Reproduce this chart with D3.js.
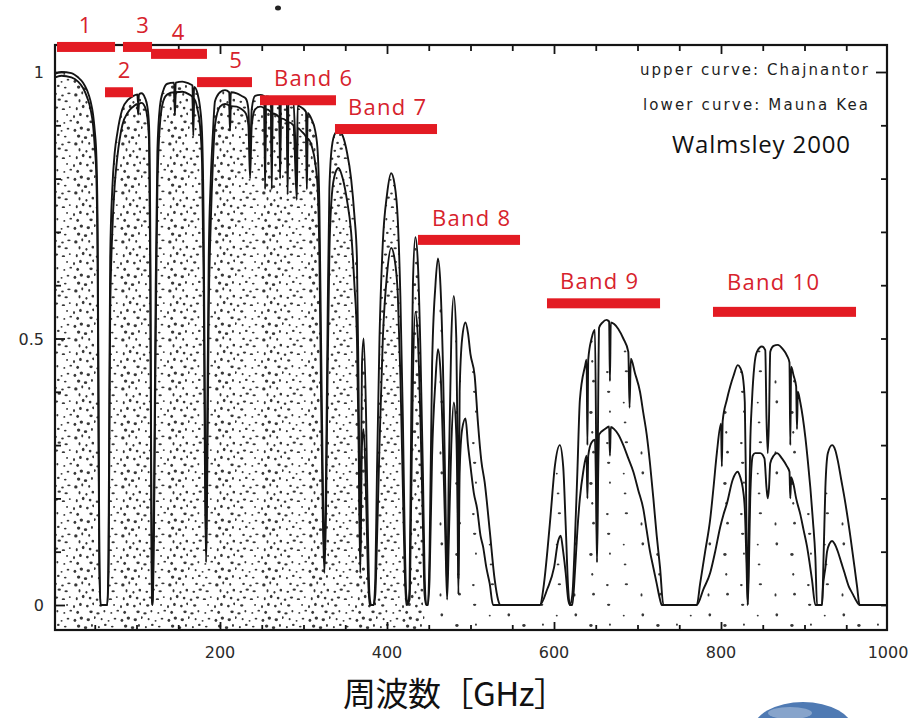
<!DOCTYPE html>
<html>
<head>
<meta charset="utf-8">
<script src="https://cdn.jsdelivr.net/npm/d3@7"></script>
<style>
  html, body { margin: 0; padding: 0; background: #fff; }
  svg { display: block; }
</style>
</head>
<body>
<div id="chart"></div>
<script>
// Atmospheric transmission, [frequency GHz, transmission]
const upperCurve = [ // Chajnantor
  [0,0.995],[10,1.0],[22,0.998],[30,0.99],[36,0.98],[41,0.965],[45,0.945],[48,0.92],[50,0.89],[52,0.84],
  [53.5,0.7],[54.5,0.4],[55.5,0.1],[57,0],[65,0],[66.5,0.1],[67.5,0.4],[68.5,0.65],[71,0.78],[74,0.85],
  [77,0.885],[83,0.93],[90,0.948],[96,0.955],[101,0.958],[102,0.94],[103,0.958],[106,0.96],[110,0.952],
  [113,0.935],[115,0.9],[116.5,0.7],[117.5,0.3],[118.5,0.02],[119,0],[119.5,0.02],[121,0.2],[123,0.6],
  [125,0.85],[128,0.935],[132,0.965],[137,0.978],[145,0.98],[146,0.94],[147,0.98],[155,0.982],[163,0.978],
  [167,0.975],[168,0.91],[169,0.972],[173,0.96],[176,0.935],[178.5,0.885],[180.5,0.7],[182,0.35],[183.3,0.1],
  [184.5,0.3],[186.5,0.65],[189,0.8],[191.5,0.885],[194,0.945],[200,0.962],[206,0.966],[211,0.962],[212,0.92],
  [213,0.962],[220,0.96],[226,0.955],[231,0.95],[234,0.93],[236,0.85],[238,0.93],[242,0.955],[248,0.957],
  [253,0.955],[254,0.83],[255,0.954],[261,0.952],[262,0.83],[263,0.95],[271,0.948],[272,0.85],[273,0.947],
  [280,0.945],[281,0.82],[282,0.944],[288,0.94],[292,0.81],[293,0.937],[298,0.933],[303,0.925],[304,0.83],
  [305,0.923],[310,0.91],[314,0.89],[317,0.85],[319,0.75],[321,0.5],[323,0.25],[325,0.08],[327,0.25],
  [329,0.55],[331,0.78],[334,0.86],[338,0.885],[342,0.89],[347,0.88],[352,0.85],[357,0.8],[361,0.73],
  [364,0.65],[366,0.4],[368,0.1],[370,0.45],[372,0.5],[375,0.35],[377,0.15],[379,0.02],[381,0],[384,0],
  [386,0.05],[388,0.25],[391,0.5],[395,0.68],[400,0.77],[405,0.81],[409,0.79],[413,0.72],[416,0.58],
  [419,0.35],[421,0.15],[423,0.02],[425,0],[427,0.03],[429,0.35],[431,0.6],[434,0.69],[437,0.64],[440,0.48],
  [443,0.25],[445,0.06],[447,0],[449,0],[451,0.1],[454,0.45],[458,0.6],[461,0.65],[464,0.6],[467,0.45],
  [470,0.2],[472,0.03],[474,0.25],[477,0.5],[480,0.58],[483,0.5],[484.5,0.3],[485.5,0.05],[487,0.4],
  [490,0.5],[494,0.53],[497,0.51],[500,0.47],[505,0.43],[509,0.34],[513,0.27],[517,0.23],[523,0.14],
  [529,0.047],[533,0.01],[536,0],[583,0],[588,0.04],[592,0.1],[596,0.17],[601,0.26],[607,0.3],[611,0.26],
  [614,0.15],[617,0.03],[619,0],[622,0.02],[625,0.12],[628,0.25],[631,0.385],[637,0.447],[639,0.46],
  [640,0.3],[641,0.46],[645,0.5],[649,0.516],[650.5,0.3],[651.5,0.1],[652.5,0.3],[654,0.52],[658,0.53],
  [663,0.535],[666,0.532],[667,0.42],[668,0.53],[672,0.527],[677,0.518],[683,0.5],[689,0.475],[690.5,0.37],
  [692,0.462],[697,0.435],[703,0.4],[707,0.36],[711,0.32],[715,0.265],[719,0.2],[723,0.13],[727,0.07],
  [731,0],[771,0],[775,0.04],[781,0.1],[787,0.16],[791,0.22],[795,0.285],[800,0.34],[801,0.26],[802,0.345],
  [807,0.385],[811,0.41],[815,0.43],[820,0.45],[823,0.445],[826,0.43],[828.5,0.38],[830.5,0.15],[832,0],
  [833.5,0.15],[835,0.3],[837,0.38],[840,0.45],[843,0.475],[849,0.485],[853,0.478],[854.5,0.35],[856,0.285],
  [857.5,0.35],[859,0.475],[863,0.486],[868,0.488],[874,0.48],[879,0.468],[882,0.455],[883,0.3],[884,0.447],
  [887,0.43],[890,0.41],[891,0.33],[892,0.4],[895,0.38],[901,0.315],[904,0.27],[907,0.22],[910,0.16],
  [913,0.09],[915,0],[921,0],[923,0.1],[925,0.22],[928,0.285],[933,0.3],[937,0.29],[940,0.27],[944,0.235],
  [948,0.2],[955,0.128],[960,0.07],[963,0.034],[966,0],[1000,0]
];

const lowerCurve = [ // Mauna Kea
  [0,0.988],[10,0.993],[22,0.99],[30,0.982],[36,0.97],[41,0.952],[45,0.93],[48,0.9],[50,0.86],[52,0.8],
  [53.5,0.62],[54.5,0.32],[55.5,0.07],[57,0],[65,0],[66.5,0.06],[67.5,0.3],[68.5,0.55],[71,0.7],[74,0.79],
  [77,0.84],[83,0.9],[90,0.925],[96,0.935],[101,0.94],[102,0.92],[103,0.94],[106,0.942],[110,0.935],
  [113,0.915],[115,0.87],[116.5,0.62],[117.5,0.25],[118.5,0.01],[119,0],[119.5,0.01],[121,0.15],[123,0.5],
  [125,0.78],[128,0.9],[132,0.945],[137,0.958],[145,0.962],[146,0.92],[147,0.962],[155,0.963],[163,0.958],
  [167,0.953],[168,0.88],[169,0.95],[173,0.93],[176,0.9],[178.5,0.83],[180.5,0.6],[182,0.25],[183.3,0.08],
  [184.5,0.2],[186.5,0.55],[189,0.72],[191.5,0.83],[194,0.9],[200,0.935],[206,0.94],[211,0.937],[212,0.89],
  [213,0.936],[220,0.935],[226,0.93],[231,0.922],[234,0.9],[236,0.8],[238,0.9],[242,0.93],[248,0.935],
  [253,0.932],[254,0.78],[255,0.93],[261,0.925],[262,0.78],[263,0.922],[271,0.915],[272,0.8],[273,0.913],
  [280,0.908],[281,0.77],[282,0.906],[288,0.9],[292,0.76],[293,0.895],[298,0.888],[303,0.878],[304,0.78],
  [305,0.875],[310,0.86],[314,0.83],[317,0.78],[319,0.66],[321,0.4],[323,0.18],[325,0.06],[327,0.18],
  [329,0.45],[331,0.66],[334,0.77],[338,0.81],[342,0.82],[347,0.8],[352,0.76],[357,0.7],[361,0.6],
  [364,0.5],[366,0.3],[368,0.06],[370,0.3],[372,0.33],[375,0.2],[377,0.07],[379,0],[384,0],[386,0.02],
  [388,0.12],[391,0.3],[395,0.5],[400,0.62],[405,0.67],[409,0.65],[413,0.58],[416,0.43],[419,0.22],
  [421,0.08],[423,0],[427,0.01],[429,0.2],[431,0.42],[434,0.55],[437,0.5],[440,0.35],[443,0.15],[445,0.02],
  [447,0],[449,0],[451,0.05],[454,0.28],[458,0.42],[461,0.48],[464,0.44],[467,0.3],[470,0.12],[472,0.01],
  [474,0.12],[477,0.3],[480,0.38],[483,0.32],[484.5,0.18],[485.5,0.02],[487,0.25],[490,0.33],[494,0.35],
  [497,0.3],[500,0.26],[504,0.21],[508,0.18],[512,0.13],[515,0.11],[519,0.07],[523,0.04],[527,0],[583,0],
  [592,0.03],[600,0.07],[605,0.12],[608,0.13],[611,0.1],[614,0.06],[617,0.01],[619,0],[622,0],[625,0.06],
  [628,0.14],[631,0.2],[635,0.25],[639,0.28],[640,0.2],[641,0.28],[645,0.305],[649,0.31],[650.5,0.2],
  [651.5,0.08],[652.5,0.2],[654,0.32],[661,0.33],[666,0.335],[667,0.28],[668,0.334],[672,0.33],[677,0.32],
  [683,0.3],[689,0.275],[695,0.25],[701,0.215],[707,0.18],[711,0.14],[715,0.1],[719,0.07],[723,0.04],
  [727,0.01],[729,0],[771,0],[779,0.03],[787,0.06],[793,0.1],[799,0.146],[803,0.17],[807,0.19],[814,0.235],
  [820,0.25],[823,0.24],[826,0.22],[828.5,0.18],[830.5,0.08],[832,0],[833.5,0.08],[835,0.2],[838,0.28],
  [841,0.285],[847,0.285],[852,0.275],[854.5,0.22],[856,0.2],[857.5,0.22],[859,0.266],[863,0.28],[867,0.285],
  [873,0.275],[879,0.26],[882,0.25],[883,0.2],[884,0.24],[887,0.225],[890,0.2],[895,0.17],[899,0.14],
  [903,0.11],[906,0.08],[909,0.047],[913,0],[921,0],[922,0.03],[925,0.07],[927,0.1],[930,0.115],[933,0.12],
  [936,0.115],[940,0.1],[944,0.08],[948,0.06],[953,0.035],[958,0.02],[962,0.008],[966,0],[1000,0]
];

// ALMA receiver bands: name, frequency range (GHz), level drawn at (transmission units)
const bandNames = ['1', '2', '3', '4', '5', 'Band 6', 'Band 7', 'Band 8', 'Band 9', 'Band 10'];
const bandLow   = [4.8, 62.3, 83.8, 117.4, 172.5, 247.9, 337.7, 437.1, 591.6, 790.4];
const bandHigh  = [74.3, 95.8, 118.6, 184.4, 238.3, 338.9, 459.9, 559.3, 727, 961.7];
const bandLevel = [1.047, 0.962, 1.047, 1.034, 0.981, 0.947, 0.893, 0.685, 0.566, 0.55];

const xTickLabels = [200, 400, 600, 800, 1000];
const yTickLabels = [0, 0.5, 1];
const legendLines = ['upper curve: Chajnantor', 'lower curve: Mauna Kea'];
const sourceNote = 'Walmsley 2000';
const xAxisTitle = '周波数［GHz］';

(function() {
  'use strict';

  class TransmissionChart {
    constructor(selector) {
      this.selector = selector;
      this.width = 911;
      this.height = 718;
      this.frame = { left: 55, right: 887, top: 45, bottom: 630 };
      this.red = '#e31b23';
      this.ink = '#141414';
    }

    init() {
      this.svg = d3.select(this.selector)
        .append('svg')
        .attr('width', this.width)
        .attr('height', this.height);

      this.x = d3.scaleLinear().domain([0, 1000]).range([53, 888]);
      this.y = d3.scaleLinear().domain([0, 1]).range([605, 72]);

      this.setupDefs();
      this.drawStipple();
      this.drawCurves();
      this.drawFrame();
      this.drawAxes();
      this.drawBands();
      this.drawLegend();
      this.drawExtras();
    }

    setupDefs() {
      const f = this.frame;
      const defs = this.svg.append('defs');

      defs.append('clipPath').attr('id', 'clip-plot')
        .append('rect')
        .attr('x', f.left).attr('y', f.top)
        .attr('width', f.right - f.left).attr('height', f.bottom - f.top);

      const split = this.x(445);
      defs.append('clipPath').attr('id', 'clip-dense')
        .append('rect')
        .attr('x', f.left).attr('y', f.top)
        .attr('width', split - f.left).attr('height', f.bottom - f.top);
      defs.append('clipPath').attr('id', 'clip-sparse')
        .append('rect')
        .attr('x', split).attr('y', f.top)
        .attr('width', f.right - split).attr('height', f.bottom - f.top);

      // stipple texture tiles (scattered dots, quasi-random layout)
      this.makeStipple(defs, 'stipple-dense', 47, 49, 44);
      this.makeStipple(defs, 'stipple-sparse', 67, 71, 11);
    }

    makeStipple(defs, id, w, h, count) {
      const pattern = defs.append('pattern')
        .attr('id', id)
        .attr('patternUnits', 'userSpaceOnUse')
        .attr('width', w)
        .attr('height', h);

      for (let i = 0; i < count; i++) {
        pattern.append('ellipse')
          .attr('cx', ((0.31 + i * 0.7548776662) % 1) * w)
          .attr('cy', ((0.67 + i * 0.5698402910) % 1) * h)
          .attr('rx', 1.0 + (i % 3) * 0.35)
          .attr('ry', 0.9 + (i % 4) * 0.25)
          .attr('fill', '#151515')
          .attr('fill-opacity', 0.85);
      }
    }

    drawStipple() {
      const area = d3.area()
        .x(d => this.x(d[0]))
        .y0(this.frame.bottom)
        .y1(d => this.y(d[1]))
        .curve(d3.curveMonotoneX);

      this.svg.append('path')
        .attr('d', area(upperCurve))
        .attr('fill', 'url(#stipple-dense)')
        .attr('clip-path', 'url(#clip-dense)');

      this.svg.append('path')
        .attr('d', area(upperCurve))
        .attr('fill', 'url(#stipple-sparse)')
        .attr('clip-path', 'url(#clip-sparse)');
    }

    drawCurves() {
      const line = d3.line()
        .x(d => this.x(d[0]))
        .y(d => this.y(d[1]))
        .curve(d3.curveMonotoneX);

      const g = this.svg.append('g').attr('clip-path', 'url(#clip-plot)');

      [lowerCurve, upperCurve].forEach(data => {
        g.append('path')
          .attr('d', line(data))
          .attr('fill', 'none')
          .attr('stroke', this.ink)
          .attr('stroke-width', 1.9)
          .attr('stroke-linejoin', 'round');
      });
    }

    drawFrame() {
      const f = this.frame;
      this.svg.append('rect')
        .attr('x', f.left).attr('y', f.top)
        .attr('width', f.right - f.left).attr('height', f.bottom - f.top)
        .attr('fill', 'none')
        .attr('stroke', this.ink)
        .attr('stroke-width', 2.2);
    }

    drawAxes() {
      const f = this.frame;
      const xTicks = d3.range(50, 1000, 50);
      const yTicks = d3.range(0, 11).map(i => i / 10);
      const isMajorX = d => d % 200 === 0;
      const isMajorY = d => Math.abs(d * 2 - Math.round(d * 2)) < 1e-6;

      const bottom = this.svg.append('g')
        .attr('transform', `translate(0,${f.bottom})`)
        .call(d3.axisBottom(this.x).tickValues(xTicks).tickSize(0).tickFormat(''));
      bottom.selectAll('.tick line').attr('y2', d => isMajorX(d) ? -8 : -5);

      const top = this.svg.append('g')
        .attr('transform', `translate(0,${f.top})`)
        .call(d3.axisTop(this.x).tickValues(xTicks).tickSize(0).tickFormat(''));
      top.selectAll('.tick line').attr('y2', d => isMajorX(d) ? 9 : 6);

      const left = this.svg.append('g')
        .attr('transform', `translate(${f.left},0)`)
        .call(d3.axisLeft(this.y).tickValues(yTicks).tickSize(0).tickFormat(''));
      left.selectAll('.tick line').attr('x2', d => isMajorY(d) ? 10 : 6);

      const right = this.svg.append('g')
        .attr('transform', `translate(${f.right},0)`)
        .call(d3.axisRight(this.y).tickValues(yTicks).tickSize(0).tickFormat(''));
      right.selectAll('.tick line').attr('x2', d => d === 1 ? -11 : -6);

      [bottom, top, left, right].forEach(g => {
        g.select('.domain').remove();
        g.selectAll('.tick line').attr('stroke', this.ink).attr('stroke-width', 1.8);
      });

      this.svg.append('g')
        .selectAll('text')
        .data(xTickLabels)
        .join('text')
        .attr('x', d => this.x(d))
        .attr('y', 658)
        .attr('text-anchor', 'middle')
        .attr('font-family', 'DejaVu Sans, sans-serif')
        .attr('font-size', 16)
        .attr('fill', '#2a2a2a')
        .text(d => d);

      this.svg.append('g')
        .selectAll('text')
        .data(yTickLabels)
        .join('text')
        .attr('x', 44)
        .attr('y', d => this.y(d) + 6)
        .attr('text-anchor', 'end')
        .attr('font-family', 'DejaVu Sans, sans-serif')
        .attr('font-size', 16)
        .attr('fill', '#2a2a2a')
        .text(d => d);

      this.svg.append('text')
        .attr('x', 343)
        .attr('y', 706)
        .attr('font-family', '"Noto Sans CJK JP", sans-serif')
        .attr('font-size', 33)
        .attr('textLength', 224)
        .attr('fill', '#111')
        .text(xAxisTitle);
    }

    drawBands() {
      const g = this.svg.append('g');
      const barHeight = 10;
      // label offsets in px relative to each bar
      const labelShift = [[-1, 0], [5, 0], [5, 0], [-1, 0], [11, 0], [14, 0], [13, 0], [14, 0], [13, 0], [14, -8]];

      bandNames.forEach((name, i) => {
        const x0 = this.x(bandLow[i]);
        const x1 = this.x(bandHigh[i]);
        const yc = this.y(bandLevel[i]);

        g.append('rect')
          .attr('x', x0)
          .attr('y', yc - barHeight / 2)
          .attr('width', x1 - x0)
          .attr('height', barHeight)
          .attr('fill', this.red);

        const isDigit = name.length < 3;
        g.append('text')
          .attr('x', isDigit ? (x0 + x1) / 2 + labelShift[i][0] : x0 + labelShift[i][0])
          .attr('y', yc - 14 + labelShift[i][1])
          .attr('text-anchor', isDigit ? 'middle' : 'start')
          .attr('font-family', '"Open Sans", sans-serif')
          .attr('font-size', 22)
          .attr('letter-spacing', isDigit ? 0 : 1.3)
          .attr('fill', '#d7222c')
          .text(name);
      });
    }

    drawLegend() {
      const g = this.svg.append('g');
      const baselines = [75, 110];
      const lengths = [228, 225];

      legendLines.forEach((text, i) => {
        g.append('text')
          .attr('x', 868)
          .attr('y', baselines[i])
          .attr('text-anchor', 'end')
          .attr('font-family', 'DejaVu Sans, sans-serif')
          .attr('font-size', 15)
          .attr('textLength', lengths[i])
          .attr('fill', '#1e1e1e')
          .text(text);
      });

      g.append('text')
        .attr('x', 672)
        .attr('y', 153)
        .attr('font-family', '"Open Sans", sans-serif')
        .attr('font-size', 24)
        .attr('textLength', 178)
        .attr('fill', '#111')
        .text(sourceNote);
    }

    drawExtras() {
      // scan leftovers: speck at top, partial logo bottom right
      this.svg.append('ellipse')
        .attr('cx', 278).attr('cy', 8)
        .attr('rx', 3).attr('ry', 2.5)
        .attr('fill', '#222');

      const logo = this.svg.append('g');
      logo.append('ellipse')
        .attr('cx', 803).attr('cy', 730)
        .attr('rx', 50).attr('ry', 28)
        .attr('fill', '#4f7ab3');
      logo.append('ellipse')
        .attr('cx', 790).attr('cy', 713)
        .attr('rx', 22).attr('ry', 6)
        .attr('fill', '#9fb6d6')
        .attr('fill-opacity', 0.7);
    }
  }

  const chart = new TransmissionChart('#chart');
  chart.init();
})();
</script>
</body>
</html>
